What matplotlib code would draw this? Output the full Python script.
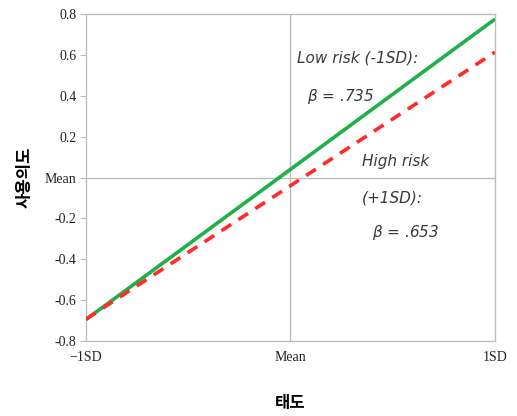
import matplotlib
matplotlib.use("agg")
import matplotlib.pyplot as plt

# x positions of the moderator levels and predicted values
x_vals = [-1, 1]
x_labels = ['\u22121SD', 'Mean', '1SD']
low_risk = [-0.695, 0.775]
high_risk = [-0.693, 0.613]
y_ticks = [-0.8, -0.6, -0.4, -0.2, 0.0, 0.2, 0.4, 0.6, 0.8]
y_labels = ['-0.8', '-0.6', '-0.4', '-0.2', 'Mean', '0.2', '0.4', '0.6', '0.8']

fig = plt.figure(figsize=(5.17, 4.16), dpi=100)
ax = fig.add_axes([0.1663, 0.1803, 0.7911, 0.786])

ax.plot(x_vals, low_risk, color='#1fb04a', linewidth=2.6, solid_capstyle='butt', zorder=3)
ax.plot(x_vals, high_risk, color='#ff2a2a', linewidth=2.6, linestyle=(0, (3.2, 2.4)), zorder=4)

ax.axhline(0, color='#bdbdbd', linewidth=1.0, zorder=1)
ax.axvline(0, color='#bdbdbd', linewidth=1.0, zorder=1)

ax.set_xlim(-1, 1)
ax.set_ylim(-0.8, 0.8)
ax.set_xticks([-1, 0, 1])
ax.set_xticklabels(x_labels)
ax.set_yticks(y_ticks)
ax.set_yticklabels(y_labels)

for s in ax.spines.values():
    s.set_color('#bdbdbd')
    s.set_linewidth(1.0)
ax.tick_params(axis='y', length=4, color='#bdbdbd', labelsize=10, pad=3)
ax.tick_params(axis='x', length=0, labelsize=10, pad=7)
for lab in ax.get_xticklabels() + ax.get_yticklabels():
    lab.set_family('Liberation Serif')
    lab.set_color('#222222')

ax.set_xlabel('태도', family='Noto Sans CJK KR', fontweight='bold', fontsize=12, labelpad=22)
ax.set_ylabel('사용의도', family='Noto Sans CJK KR', fontweight='bold', fontsize=12, labelpad=8)

tkw = dict(fontsize=11, style='italic', color='#3a3a3a', family='DejaVu Sans',
           ha='left', va='center', transform=ax.transData)
ax.text(0.03, 0.583, 'Low risk (-1SD):', **tkw)
ax.text(0.083, 0.397, r'$\beta$ = .735', **tkw)
ax.text(0.35, 0.078, 'High risk', **tkw)
ax.text(0.35, -0.098, '(+1SD):', **tkw)
ax.text(0.40, -0.27, r'$\beta$ = .653', **tkw)

fig.savefig('out.png', dpi=100)
